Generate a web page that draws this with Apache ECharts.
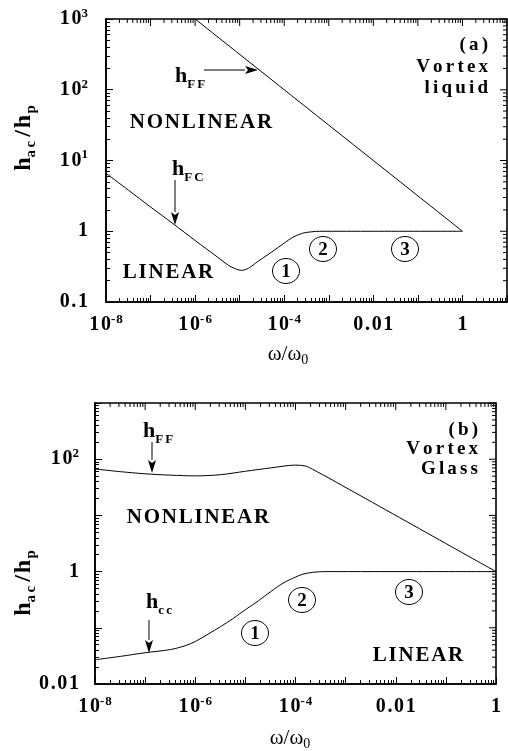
<!DOCTYPE html>
<html><head><meta charset="utf-8">
<script src="https://cdn.jsdelivr.net/npm/echarts@6/dist/echarts.min.js"></script>
<style>html,body{margin:0;padding:0;background:#fff}#c{width:508px;height:751px}</style>
</head><body><div id="c"></div>
<script>
// ---------- data ----------
// panel (a): vortex liquid
const hffA_w = [1e-6, 1];
const hffA_h = [1000, 1];
const hfcA_w = [1e-8, 3.2e-8, 1e-7, 3.2e-7, 1e-6, 3.2e-6, 5.6e-6, 8e-6, 1.12e-5, 1.58e-5, 2.5e-5, 4.8e-5, 1e-4, 1.55e-4, 2.6e-4, 4e-4, 6.3e-4, 1e-2, 1];
const hfcA_h = [6.6, 3.8, 2.2, 1.28, 0.74, 0.43, 0.33, 0.295, 0.28, 0.30, 0.37, 0.49, 0.68, 0.82, 0.94, 0.98, 1.0, 1.0, 1.0];
// panel (b): vortex glass
const hffB_w = [1e-8, 3.2e-8, 1e-7, 3.2e-7, 1e-6, 3.2e-6, 1e-5, 3.2e-5, 1e-4, 1.6e-4, 2.2e-4, 5.6e-4, 1];
const hffB_h = [67, 60, 55, 52, 50.5, 53, 61, 70, 78.5, 75.5, 66, 42, 1];
const hccB_w = [1e-8, 3.2e-8, 1e-7, 3.2e-7, 6.3e-7, 1e-6, 1.8e-6, 3.2e-6, 5.6e-6, 1e-5, 1.8e-5, 3.2e-5, 5.6e-5, 1e-4, 1.4e-4, 2.2e-4, 4e-4, 1];
const hccB_h = [0.027, 0.031, 0.036, 0.041, 0.048, 0.057, 0.077, 0.105, 0.145, 0.21, 0.30, 0.44, 0.62, 0.80, 0.90, 0.97, 1.0, 1.0];
// axis extents, decade ticks and tick labels
const xRangeA = [1e-8, 10];
const yRangeA = [0.1, 1000];
const xRangeB = [1e-8, 1];
const yRangeB = [0.01, 1000];
const xMajorA = [1e-8, 1e-7, 1e-6, 1e-5, 1e-4, 1e-3, 1e-2, 1e-1, 1, 10];
const yMajorA = [0.1, 1, 10, 100, 1000];
const xMajorB = [1e-8, 1e-7, 1e-6, 1e-5, 1e-4, 1e-3, 1e-2, 1e-1, 1];
const yMajorB = [0.01, 0.1, 1, 10, 100, 1000];
const xLabelsA = [1e-8, 1e-6, 1e-4, 1e-2, 1];
const yLabelsA = [0.1, 1, 10, 100, 1000];
const xLabelsB = [1e-8, 1e-6, 1e-4, 1e-2, 1];
const yLabelsB = [0.01, 1, 100];

// ---------- helpers ----------
const SERIF = '"Liberation Serif","Times New Roman",serif';
const HS = '\u200A';
function sp(s, n) { return s.split('').join(HS.repeat(n || 1)); }
function pairs(w, h) { return w.map((v, i) => [v, h[i]]); }
function minorsOf(majors) {
  const out = [];
  for (let i = 0; i < majors.length - 1; i++) for (let k = 2; k <= 9; k++) out.push(majors[i] * k);
  return out;
}
function fmt(v) {
  const e = Math.round(Math.log10(v));
  if (e === 0) return '{b|1}';
  if (e === -1) return '{b|' + sp('0.1') + '}';
  if (e === -2) return '{b|' + sp('0.01') + '}';
  return '{b|' + sp('10') + '}{s|' + sp(String(e)) + '}';
}
const labelRich = {
  b: { fontFamily: SERIF, fontWeight: 'bold', fontSize: 20, lineHeight: 24, color: '#000' },
  s: { fontFamily: SERIF, fontWeight: 'bold', fontSize: 13, lineHeight: 12, verticalAlign: 'top', color: '#000' }
};

function axis(dim, grid, range, majors, labels, margin) {
  return {
    type: 'log', gridIndex: grid, min: range[0], max: range[1], position: dim === 'x' ? 'bottom' : 'left',
    splitLine: { show: false },
    axisLine: { show: true, onZero: false, lineStyle: { color: '#000', width: 1.6 } },
    axisTick: { show: true, inside: true, length: 7, customValues: majors, lineStyle: { color: '#000', width: 1 } },
    minorTick: { show: true, splitNumber: 9, length: 4, lineStyle: { color: '#000', width: 1 } },
    axisLabel: { show: true, customValues: labels, formatter: fmt, rich: labelRich, margin: margin }
  };
}

function curve(name, data, ai) {
  return { type: 'line', name: name, xAxisIndex: ai, yAxisIndex: ai, data: data, showSymbol: false, symbol: 'none',
    smooth: 0.3, lineStyle: { color: '#000', width: 1 } };
}

// inward ticks along the top and right edges, placed through the axes' own scales
function mirrorTicks(ai, xMaj, yMaj) {
  return {
    type: 'custom', coordinateSystem: 'cartesian2d', xAxisIndex: ai, yAxisIndex: ai,
    data: [[Math.sqrt(xMaj[0] * xMaj[xMaj.length - 1]), Math.sqrt(yMaj[0] * yMaj[yMaj.length - 1])]],
    renderItem: function (params, api) {
      const cs = params.coordSys;
      const T = cs.y, R = cs.x + cs.width;
      const yMid = yMaj[1], xMid = xMaj[1];
      const ch = [];
      const add = (x1, y1, x2, y2) => ch.push({ type: 'line', shape: { x1: x1, y1: y1, x2: x2, y2: y2 }, style: { stroke: '#000', lineWidth: 1 } });
      xMaj.forEach(v => { const x = api.coord([v, yMid])[0]; add(x, T, x, T + 7); });
      minorsOf(xMaj).forEach(v => { const x = api.coord([v, yMid])[0]; add(x, T, x, T + 4); });
      yMaj.forEach(v => { const y = api.coord([xMid, v])[1]; add(R, y, R - 7, y); });
      minorsOf(yMaj).forEach(v => { const y = api.coord([xMid, v])[1]; add(R, y, R - 4, y); });
      return { type: 'group', children: ch };
    }
  };
}

function txt(x, y, text, size, align, opts) {
  return Object.assign({ type: 'text', x: x, y: y, z: 50, style: Object.assign({
    text: text, fill: '#000', fontFamily: SERIF, fontWeight: 'bold', fontSize: size,
    textAlign: align || 'center', align: align || 'center', textVerticalAlign: 'middle', verticalAlign: 'middle'
  }, opts || {}) });
}
function arrow(x1, y1, x2, y2) {
  const dx = x2 - x1, dy = y2 - y1, L = Math.sqrt(dx * dx + dy * dy);
  const ux = dx / L, uy = dy / L, hl = 13, hw = 4;
  const bx = x2 - ux * hl, by = y2 - uy * hl;
  return [
    { type: 'line', z: 50, shape: { x1: x1, y1: y1, x2: bx, y2: by }, style: { stroke: '#000', lineWidth: 1 } },
    { type: 'polygon', z: 50, shape: { points: [[x2, y2], [bx - uy * hw, by + ux * hw], [bx + ux * 3, by + uy * 3], [bx + uy * hw, by - ux * hw]] }, style: { fill: '#000' } }
  ];
}
function circled(cx, cy, d) {
  return [
    { type: 'ellipse', z: 50, shape: { cx: cx, cy: cy, rx: 13.5, ry: 12.5 }, style: { fill: 'none', stroke: '#000', lineWidth: 1 } },
    txt(cx, cy + 1, d, 19, 'center')
  ];
}
function hlabel(x, y, sub) {
  return txt(x, y, '{h|h}{s|' + sp(sub, 2) + '}', 22, 'left', { rich: {
    h: { fontFamily: SERIF, fontWeight: 'bold', fontSize: 22, lineHeight: 30 },
    s: { fontFamily: SERIF, fontWeight: 'bold', fontSize: 13, lineHeight: 12, verticalAlign: 'bottom' } } });
}
function yname(x, y) {
  const t = txt(x, y, '{h|h}{s|' + sp('ac', 2) + '}{h|' + HS + HS + '/' + HS + 'h}{s|' + HS + 'p}', 24, 'center', { rich: {
    h: { fontFamily: SERIF, fontWeight: 'bold', fontSize: 24, lineHeight: 30 },
    s: { fontFamily: SERIF, fontWeight: 'bold', fontSize: 15, lineHeight: 12, verticalAlign: 'bottom' } } });
  t.rotation = Math.PI / 2;
  return t;
}
function xname(x, y) {
  return txt(x, y, '{w|ω/ω}{z|0}', 20, 'center', { rich: {
    w: { fontFamily: SERIF, fontWeight: 'normal', fontSize: 21, lineHeight: 26 },
    z: { fontFamily: SERIF, fontWeight: 'normal', fontSize: 14, lineHeight: 10, verticalAlign: 'bottom' } } });
}

const graphics = [].concat(
  // panel (a)
  txt(488, 45, sp('(a)', 2), 19, 'right'),
  txt(488, 67, sp('Vortex', 2), 19, 'right'),
  txt(488, 88, sp('liquid', 2), 19, 'right'),
  txt(201, 123, sp('NONLINEAR'), 21, 'center'),
  txt(168, 273, sp('LINEAR'), 21, 'center'),
  hlabel(175, 76, 'FF'),
  arrow(204, 70, 258, 70),
  hlabel(172, 169, 'FC'),
  arrow(175, 180, 175, 225),
  circled(286, 271, '1'), circled(323, 249, '2'), circled(405, 249, '3'),
  yname(24, 138),
  xname(288, 354),
  // panel (b)
  txt(478, 430, sp('(b)', 2), 19, 'right'),
  txt(478, 449, sp('Vortex', 2), 19, 'right'),
  txt(478, 469, sp('Glass', 2), 19, 'right'),
  txt(198, 518, sp('NONLINEAR'), 21, 'center'),
  txt(418, 656, sp('LINEAR'), 21, 'center'),
  hlabel(143, 431, 'FF'),
  arrow(152, 442, 152, 473),
  hlabel(146, 602, 'cc'),
  arrow(149, 620, 149, 653),
  circled(255, 633, '1'), circled(302, 600, '2'), circled(409, 592, '3'),
  yname(24, 583),
  xname(290, 738)
);

const chart = echarts.init(document.getElementById('c'), null, { renderer: 'canvas', width: 508, height: 751 });
chart.setOption({
  animation: false,
  grid: [
    { left: 106, top: 19, right: 1, height: 283, show: true, borderColor: '#000', borderWidth: 1.6, backgroundColor: 'transparent' },
    { left: 95, top: 403, right: 12, height: 281, show: true, borderColor: '#000', borderWidth: 1.6, backgroundColor: 'transparent' }
  ],
  xAxis: [axis('x', 0, xRangeA, xMajorA, xLabelsA, 11), axis('x', 1, xRangeB, xMajorB, xLabelsB, 11)],
  yAxis: [axis('y', 0, yRangeA, yMajorA, yLabelsA, 18), axis('y', 1, yRangeB, yMajorB, yLabelsB, 16)],
  series: [
    curve('hFF (a)', pairs(hffA_w, hffA_h), 0),
    curve('hFC (a)', pairs(hfcA_w, hfcA_h), 0),
    mirrorTicks(0, xMajorA, yMajorA),
    curve('hFF (b)', pairs(hffB_w, hffB_h), 1),
    curve('hcc (b)', pairs(hccB_w, hccB_h), 1),
    mirrorTicks(1, xMajorB, yMajorB)
  ]
});
chart.setOption({ graphic: graphics });
</script></body></html>
